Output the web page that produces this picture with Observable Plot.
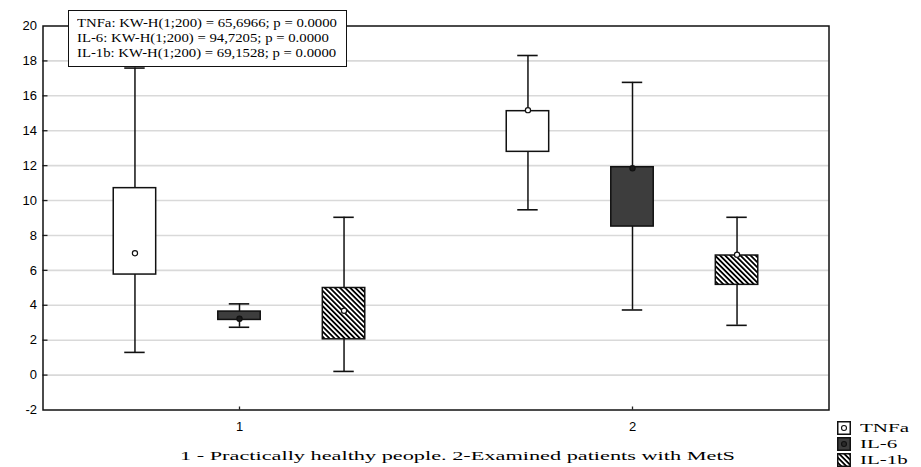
<!DOCTYPE html>
<html><head><meta charset="utf-8">
<script src="https://cdn.jsdelivr.net/npm/d3@7"></script>
<script src="https://cdn.jsdelivr.net/npm/@observablehq/plot@0.6"></script>
<style>
body{margin:0;background:#fff;}
#wrap{position:relative;width:921px;height:467px;overflow:hidden;background:#fff;}
#wrap svg{position:absolute;left:0;top:0;}
.serif{font-family:"Liberation Serif","Times New Roman",serif;color:#000;white-space:nowrap;position:absolute;}
#stats{position:absolute;left:68px;top:10px;width:277px;height:55px;border:1.5px solid #111;background:#fff;}
#stats .serif{font-size:12px;line-height:14px;transform-origin:left center;}
#caption{font-size:13px;line-height:16px;transform-origin:left center;}
.legtext{font-size:13px;line-height:14px;transform-origin:left center;}
</style></head><body>
<div id="wrap"></div>
<script>
// ---- data ----
const groups = [1, 2];
const groupLabels = ["1", "2"];
const variables = ["TNFa", "IL-6", "IL-1b"];
const boxGroup = [1, 1, 1, 2, 2, 2];
const boxVariable = ["TNFa", "IL-6", "IL-1b", "TNFa", "IL-6", "IL-1b"];
const whiskerLow  = [1.30, 2.74, 0.21, 9.47, 3.73, 2.85];
const quartile1   = [5.76, 3.16, 2.05, 12.79, 8.51, 5.17];
const medianVal   = [6.98, 3.23, 3.69, 15.18, 11.85, 6.90];
const quartile3   = [10.71, 3.64, 4.99, 15.12, 11.91, 6.85];
const whiskerHigh = [17.59, 4.08, 9.04, 18.31, 16.77, 9.04];
const yTicks = [-2, 0, 2, 4, 6, 8, 10, 12, 14, 16, 18, 20];
const gridTicks = [0, 2, 4, 6, 8, 10, 12, 14, 16, 18];
const statLines = [
  "TNFa: KW-H(1;200) = 65,6966; p = 0.0000",
  "IL-6:  KW-H(1;200) = 94,7205; p = 0.0000",
  "IL-1b: KW-H(1;200) = 69,1528; p = 0.0000"
];
const xAxisTitle = "1 - Practically healthy people. 2-Examined patients with MetS";

// ---- layout/style ----
const varOffset = {"TNFa": -0.266, "IL-6": 0, "IL-1b": 0.266};
const boxHalf = 0.054, capHalf = 0.026;
const fills = {"TNFa": "#ffffff", "IL-6": "#3d3d3d", "IL-1b": "url(#stripes)"};
const dotFills = {"TNFa": "#ffffff", "IL-6": "#1a1a1a", "IL-1b": "#ffffff"};

const boxes = boxGroup.map((g, i) => ({
  group: g, variable: boxVariable[i], pos: g + varOffset[boxVariable[i]],
  lo: whiskerLow[i], q1: quartile1[i], med: medianVal[i], q3: quartile3[i], hi: whiskerHigh[i]
}));

const marks = [
  Plot.ruleY(gridTicks, {stroke: "#d9d9d9", strokeWidth: 1.6}),
  Plot.axisY(yTicks, {tickSize: 0, tickPadding: 6, fontSize: 13, fill: "#000", label: null, tickFormat: d => String(d)}),
  Plot.axisY(gridTicks, {tickSize: -5, text: null, stroke: "#222", strokeWidth: 1.3, label: null}),
  Plot.axisX(groups, {tickSize: 0, tickPadding: 12, fontSize: 13, fill: "#000", label: null, tickFormat: (d, i) => groupLabels[i]}),
  Plot.axisX(groups, {tickSize: -3, text: null, stroke: "#222", strokeWidth: 1.3, label: null}),
  Plot.ruleX(boxes, {x: "pos", y1: "lo", y2: "hi", stroke: "#111", strokeWidth: 1.5}),
  Plot.ruleY(boxes, {y: "lo", x1: d => d.pos - capHalf, x2: d => d.pos + capHalf, stroke: "#111", strokeWidth: 1.6}),
  Plot.ruleY(boxes, {y: "hi", x1: d => d.pos - capHalf, x2: d => d.pos + capHalf, stroke: "#111", strokeWidth: 1.6})
];
for (const v of variables) {
  const sub = boxes.filter(d => d.variable === v);
  marks.push(Plot.rect(sub, {x1: d => d.pos - boxHalf, x2: d => d.pos + boxHalf, y1: "q1", y2: "q3",
    fill: fills[v], stroke: "#111", strokeWidth: 1.5}));
  marks.push(Plot.dot(sub, {x: "pos", y: "med", r: 2.6, fill: dotFills[v], stroke: "#111", strokeWidth: 1.2}));
}
marks.push(Plot.frame({stroke: "#111", strokeWidth: 1.5}));

const chart = Plot.plot({
  width: 921, height: 467,
  marginLeft: 42.5, marginRight: 92.5, marginTop: 25.5, marginBottom: 57.5,
  x: {domain: [0.5, 2.5], axis: null, label: null},
  y: {domain: [-2, 20], axis: null, label: null},
  style: {background: "transparent", fontFamily: "'Liberation Sans', Arial, sans-serif", fontSize: "13px", color: "#000"},
  marks
});
const ns = "http://www.w3.org/2000/svg";
const defs = document.createElementNS(ns, "defs");
defs.innerHTML = `<pattern id="stripes" patternUnits="userSpaceOnUse" width="3.6" height="3.6" patternTransform="rotate(-45)">
  <rect width="3.6" height="3.6" fill="#fff"/><rect width="1.8" height="3.6" fill="#000"/></pattern>`;
chart.insertBefore(defs, chart.firstChild);

const wrap = document.getElementById("wrap");
wrap.appendChild(chart);

// stats box
const stats = document.createElement("div");
stats.id = "stats";
wrap.appendChild(stats);
const statTops = [11.5, 26.5, 42];
statLines.forEach((t, i) => {
  const s = document.createElement("div");
  s.className = "serif";
  s.textContent = t;
  s.style.left = "8px";
  s.style.top = (statTops[i] - 7) + "px";
  stats.appendChild(s);
});

// caption
const cap = document.createElement("div");
cap.className = "serif";
cap.id = "caption";
cap.textContent = xAxisTitle;
cap.style.left = "180px";
cap.style.top = "448px";
wrap.appendChild(cap);

// right legend
const legTops = [420.5, 436.5, 452.5];
variables.forEach((v, i) => {
  const sw = document.createElementNS(ns, "svg");
  sw.setAttribute("width", 14); sw.setAttribute("height", 14);
  sw.style.position = "absolute"; sw.style.left = "837px"; sw.style.top = legTops[i] + "px";
  sw.innerHTML = `<defs><pattern id="lstripes${i}" patternUnits="userSpaceOnUse" width="3.6" height="3.6" patternTransform="rotate(-45)"><rect width="3.6" height="3.6" fill="#fff"/><rect width="1.8" height="3.6" fill="#000"/></pattern></defs>
    <rect x="0.75" y="0.75" width="12.5" height="12.5" fill="${v === "IL-1b" ? `url(#lstripes${i})` : fills[v]}" stroke="#111" stroke-width="1.5"/>
    ${v === "IL-1b" ? "" : `<circle cx="7" cy="7" r="2.5" fill="${v === "TNFa" ? "#fff" : "#2a2a2a"}" stroke="#111" stroke-width="1.1"/>`}`;
  wrap.appendChild(sw);
  const t = document.createElement("div");
  t.className = "serif legtext";
  t.textContent = v;
  t.style.left = "860px";
  t.style.top = (legTops[i] + 0) + "px";
  wrap.appendChild(t);
});

// horizontal stretch of the serif texts to match the reference's proportions
function stretch(el, target) {
  const w = el.getBoundingClientRect().width;
  if (w > 0) el.style.transform = `scaleX(${target / w})`;
}
const statEls = stats.querySelectorAll(".serif");
const k0 = 260 / statEls[0].getBoundingClientRect().width;
statEls.forEach(el => el.style.transform = `scaleX(${k0})`);
stretch(cap, 555);
const legEls = wrap.querySelectorAll(".legtext");
const kl = 49 / legEls[0].getBoundingClientRect().width;
legEls.forEach(el => el.style.transform = `scaleX(${kl})`);
</script>
</body></html>
